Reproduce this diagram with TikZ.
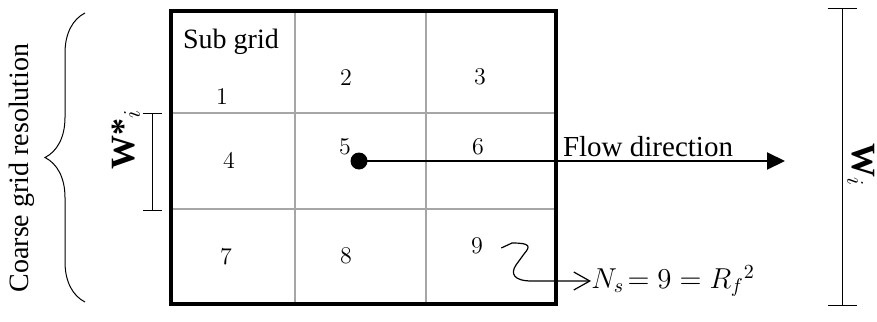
\documentclass[tikz,border=0pt]{standalone}
\usepackage[no-math]{fontspec}
\setmainfont{Liberation Serif}
\newfontfamily\tms{Liberation Serif}
\usepackage{tikz}
\usetikzlibrary{arrows.meta,decorations.pathreplacing}

\begin{document}
\begin{tikzpicture}[x=0.5pt,y=-0.5pt,
  cell/.style={font=\fontsize{13}{15}\selectfont,inner sep=0pt},
  lbl/.style={font=\tms\fontsize{#1}{#1}\selectfont,inner sep=0pt},
  lbl/.default=13,
  gridline/.style={draw=gray!70,line width=1pt},
  bar/.style={line width=0.5pt,{Bar[width=#1]}-{Bar[width=#1]}},
  flow/.style={line width=1pt,-{Triangle[length=9pt,width=8.5pt]}},
  squiggle/.style={line width=0.6pt,-{Straight Barb[length=8pt,width=9pt]}}]
\useasboundingbox (0,0) rectangle (877,321);
% coarse cell and its sub grid
\draw[gridline] (294.5,11) -- (294.5,304) (426,11) -- (426,304)
  (171,113) -- (556,113) (171,209) -- (556,209);
\draw[line width=2pt] (171,11) rectangle (556,304);
\node[lbl=14] (sub) at (231,42) {Sub grid};
\node[cell] (c1) at (222,97) {$1$};
\node[cell] (c2) at (346,78) {$2$};
\node[cell] (c3) at (480,77) {$3$};
\node[cell] (c4) at (229,161) {$4$};
\node[cell] (c5) at (345,147) {$5$};
\node[cell] (c6) at (478,147) {$6$};
\node[cell] (c7) at (226,257) {$7$};
\node[cell] (c8) at (346,256) {$8$};
\node[cell] (c9) at (477,246) {$9$};
% flow
\node[circle,fill,inner sep=0pt,minimum size=8.5pt] (dot) at (359,161) {};
\coordinate (flowend) at (785,161);
\draw[flow] (dot.center) -- (flowend);
\node[lbl=14.5] (flowlbl) at (648,147) {Flow direction};
% number of sub grids
\node[lbl=14.5,anchor=west] (ns) at (591,281) {$N_s\!= 9 = R_f{}^2$};
\draw[squiggle] ([xshift=9pt,yshift=-1pt]c9.east) -- (512,243)
  .. controls (530,243) and (531,246) .. (524,254)
  -- (516,265)
  .. controls (510,274) and (514,281) .. (532,281) -- (ns.west);
% widths
\coordinate (wa) at (152,113);
\coordinate (wb) at (152,211);
\draw[bar=9.5pt] (wa) -- (wb);
\node[lbl=17,rotate=90] (wstar) at (126,139) {\textbf{W*}$_i$};
\coordinate (wc) at (842,8);
\coordinate (wd) at (842,306);
\draw[bar=14.5pt] (wc) -- (wd);
\node[lbl=17,rotate=-90] (wi) at (861,165) {\textbf{W}$_i$};
% coarse resolution
\draw[line width=0.5pt,decorate,decoration={brace,amplitude=20pt}] (85,302) -- (85,13);
\node[lbl=14,rotate=90] (coarse) at (22,168) {Coarse grid resolution};
\end{tikzpicture}
\end{document}
